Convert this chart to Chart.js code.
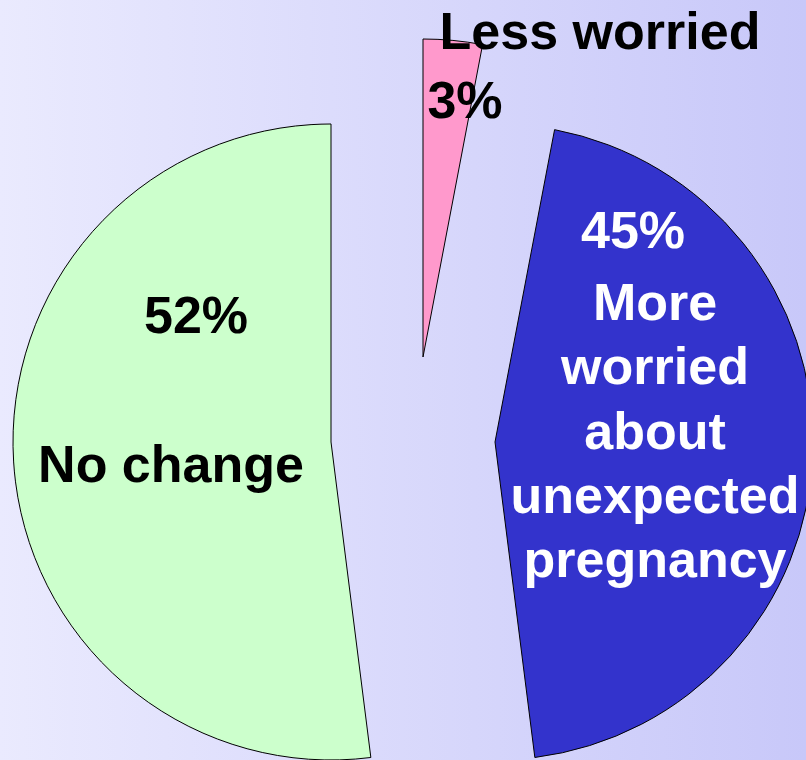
<!DOCTYPE html>
<html>
<head>
<meta charset="utf-8">
<script src="https://cdn.jsdelivr.net/npm/chart.js@4"></script>
<style>
  html, body { margin: 0; padding: 0; }
  #wrap { width: 806px; height: 760px; position: relative; }
</style>
</head>
<body>
<div id="wrap"><canvas id="chart"></canvas></div>
<script>
// data
const categories = ['Less worried', 'More worried about unexpected pregnancy', 'No change'];
const percents = [3, 45, 52];
const labelLines = [['Less worried'], ['More', 'worried', 'about', 'unexpected', 'pregnancy'], ['No change']];
const sliceColors = ['#ff99cc', '#3333cc', '#ccffcc'];
const textColors = ['#000000', '#ffffff', '#000000'];

// exploded slices: shift of each slice from the pie centre
const explode = [[92, -85], [164, 0], [0, 0]];

const bgPlugin = {
  id: 'bg',
  beforeDraw(chart) {
    const c = chart.ctx;
    const g = c.createLinearGradient(0, 0, chart.width, 0);
    g.addColorStop(0, '#eaeafe');
    g.addColorStop(1, '#c8c8f9');
    c.save();
    c.fillStyle = g;
    c.fillRect(0, 0, chart.width, chart.height);
    c.restore();
  }
};

const explodePlugin = {
  id: 'explode',
  afterDatasetsUpdate(chart) {
    const meta = chart.getDatasetMeta(0);
    meta.data.forEach((arc, i) => {
      arc.x += explode[i][0];
      arc.y += explode[i][1];
    });
  }
};

// text placement relative to each slice's tip
const labelPlugin = {
  id: 'sliceLabels',
  afterDatasetsDraw(chart) {
    const c = chart.ctx;
    const meta = chart.getDatasetMeta(0);
    c.save();
    c.font = 'bold 52px "Liberation Sans", Arial, sans-serif';
    c.textAlign = 'center';
    c.textBaseline = 'alphabetic';
    const put = (i, txt, dx, dy) => {
      const el = meta.data[i];
      c.fillStyle = textColors[i];
      c.fillText(txt, el.x + dx, el.y + dy);
    };
    // Less worried
    put(0, labelLines[0][0], 177, -308);
    put(0, percents[0] + '%', 42, -239);
    // More worried ...
    put(1, percents[1] + '%', 138, -194);
    labelLines[1].forEach((t, k) => put(1, t, 160, -122 + k * 64.3));
    // No change
    put(2, percents[2] + '%', -135, -109);
    put(2, labelLines[2][0], -160, 40);
    c.restore();
  }
};

const ctx = document.querySelector('#chart').getContext('2d');
const chart = new Chart(ctx, {
  type: 'pie',
  data: {
    labels: categories,
    datasets: [{
      data: percents,
      backgroundColor: sliceColors,
      borderColor: '#000000',
      borderWidth: 1,
      clip: false
    }]
  },
  options: {
    responsive: true,
    maintainAspectRatio: false,
    animation: false,
    radius: 318,
    layout: { padding: { left: 0, right: 144, top: 124, bottom: 0 } },
    plugins: {
      legend: { display: false },
      tooltip: { enabled: false }
    }
  },
  plugins: [bgPlugin, explodePlugin, labelPlugin]
});
</script>
</body>
</html>
